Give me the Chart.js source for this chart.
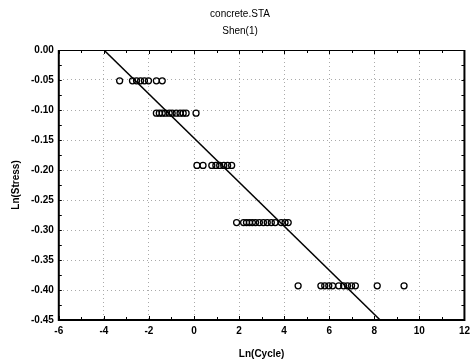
<!DOCTYPE html>
<html>
<head>
<meta charset="utf-8">
<script src="https://cdn.jsdelivr.net/npm/chart.js@4"></script>
<style>
  html, body { margin: 0; padding: 0; background: #fff; }
  #wrap { width: 475px; height: 364px; }
</style>
</head>
<body>
<div id="wrap"><canvas id="chart"></canvas></div>
<script>
// stress levels (ratio) and the ln(cycle) readings at each level
const stressLevels = [0.95, 0.9, 0.825, 0.75, 0.675];
const cycles095 = [-3.30, -2.73, -2.55, -2.37, -2.20, -2.02, -1.67, -1.41];
const cycles090 = [-1.67, -1.54, -1.41, -1.27, -1.10, -0.97, -0.79, -0.62, -0.48, -0.35, 0.09];
const cycles0825 = [0.13, 0.40, 0.79, 0.97, 1.14, 1.32, 1.49, 1.67];
const cycles075 = [1.89, 2.20, 2.33, 2.46, 2.59, 2.73, 2.90, 3.08, 3.25, 3.43, 3.60, 3.87, 4.04, 4.18];
const cycles0675 = [4.62, 5.63, 5.80, 5.98, 6.15, 6.42, 6.64, 6.81, 6.99, 7.16, 8.13, 9.32];

// fitted line end points
const fitX = [-4.0, 8.26];
const fitY = [0.0, -0.45];

const xTicks = [-6, -4, -2, 0, 2, 4, 6, 8, 10, 12];
const yTicks = [0, -0.05, -0.1, -0.15, -0.2, -0.25, -0.3, -0.35, -0.4, -0.45];

const rows = [cycles095, cycles090, cycles0825, cycles075, cycles0675];
const points = [];
rows.forEach((row, i) => {
    const lnS = Math.log(stressLevels[i]);
    row.forEach(c => points.push({x: c, y: lnS}));
});

const frame = {
    id: 'frame',
    afterDraw(chart) {
        const ctx = chart.ctx;
        const a = chart.chartArea;
        const xs = chart.scales.x;
        const ys = chart.scales.y;
        ctx.save();
        ctx.strokeStyle = '#000';
        // inward minor ticks
        ctx.lineWidth = 1;
        ctx.beginPath();
        for (let v = -6; v <= 12; v += 1) {
            const px = Math.round(xs.getPixelForValue(v)) + 0.5;
            const len = v % 2 === 0 ? 4 : 3;
            ctx.moveTo(px, a.bottom); ctx.lineTo(px, a.bottom - len);
            ctx.moveTo(px, a.top); ctx.lineTo(px, a.top + len);
        }
        for (let v = 0; v >= -0.45; v -= 0.025) {
            const py = Math.round(ys.getPixelForValue(v)) + 0.5;
            ctx.moveTo(a.left, py); ctx.lineTo(a.left + 3, py);
            ctx.moveTo(a.right, py); ctx.lineTo(a.right - 3, py);
        }
        ctx.stroke();
        // frame
        ctx.lineWidth = 2;
        ctx.beginPath();
        ctx.moveTo(a.left, a.top);
        ctx.lineTo(a.left, a.bottom);
        ctx.lineTo(a.right, a.bottom);
        ctx.lineTo(a.right, a.top);
        ctx.stroke();
        ctx.lineWidth = 1;
        ctx.beginPath();
        ctx.moveTo(a.left, a.top + 0.5);
        ctx.lineTo(a.right, a.top + 0.5);
        ctx.stroke();
        ctx.restore();
    }
};

Chart.defaults.color = '#000';
Chart.defaults.font.family = 'Liberation Sans, Arial, sans-serif';

new Chart(document.getElementById('chart'), {
    type: 'scatter',
    data: {
        datasets: [
            {
                data: points,
                pointStyle: 'circle',
                pointRadius: 3,
                borderColor: '#000',
                borderWidth: 1.3,
                backgroundColor: 'rgba(255,255,255,0)'
            },
            {
                type: 'line',
                data: fitX.map((x, i) => ({x: x, y: fitY[i]})),
                borderColor: '#000',
                borderWidth: 1.5,
                pointRadius: 0,
                fill: false
            }
        ]
    },
    plugins: [frame],
    options: {
        responsive: true,
        maintainAspectRatio: false,
        animation: false,
        layout: {padding: {left: 6, right: 1, top: 6, bottom: 0}},
        plugins: {
            legend: {display: false},
            tooltip: {enabled: false},
            title: {
                display: true,
                text: ['concrete.STA', 'Shen(1)'],
                font: {size: 10, weight: 'normal', lineHeight: 1.7},
                padding: {top: 0, bottom: 10}
            }
        },
        scales: {
            x: {
                type: 'linear',
                min: -6,
                max: 12,
                afterBuildTicks: s => { s.ticks = xTicks.map(v => ({value: v})); },
                ticks: {font: {size: 10, weight: 'bold'}, padding: 5},
                grid: {color: '#aaa', drawTicks: false},
                border: {display: false, dash: [1, 3]},
                title: {display: true, text: 'Ln(Cycle)', font: {size: 10, weight: 'bold'}, padding: {top: 6}}
            },
            y: {
                type: 'linear',
                min: -0.45,
                max: 0,
                afterBuildTicks: s => { s.ticks = yTicks.map(v => ({value: v})); },
                ticks: {font: {size: 10, weight: 'bold'}, padding: 5,
                    callback: v => v.toFixed(2)},
                grid: {color: '#aaa', drawTicks: false},
                border: {display: false, dash: [1, 3]},
                title: {display: true, text: 'Ln(Stress)', font: {size: 10, weight: 'bold'}, padding: {bottom: 4}}
            }
        }
    }
});
</script>
</body>
</html>
